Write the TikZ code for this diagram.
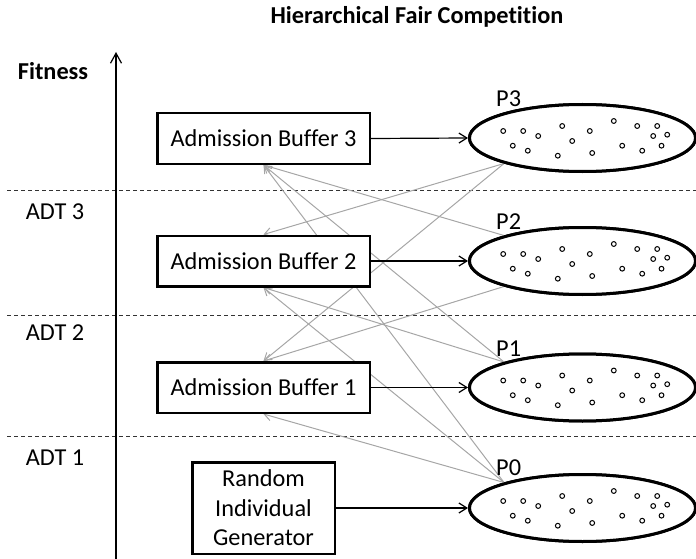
\documentclass[tikz,border=0pt]{standalone}
\usepackage{fontspec}
\setmainfont{Carlito}[Ligatures=NoCommon]
\usetikzlibrary{arrows.meta,shapes.geometric}
\begin{document}
\begin{tikzpicture}[x=1pt,y=-1pt,
  every node/.style={font=\fontsize{24.3}{29.5}\selectfont},
  boldtxt/.style={font=\fontsize{24.3}{29.5}\selectfont\bfseries},
  buf/.style={draw,line width=2.5pt,fill=white,minimum width=212.5pt,minimum height=50.5pt,inner sep=0pt},
  gen/.style={draw,line width=2.5pt,fill=white,minimum width=142.5pt,minimum height=91.5pt,inner sep=0pt,align=center},
  pop/.style={draw,ellipse,line width=3pt,fill=white,minimum width=226pt,minimum height=67pt,inner sep=0pt},
  blk/.style={-{Straight Barb[length=8pt,width=10pt]},line width=1.2pt},
  gry/.style={-{Straight Barb[length=7pt,width=9pt]},line width=1pt,draw=black!35},
  sep/.style={dash pattern=on 4pt off 3pt,line width=0.9pt,draw=black!80},
  axisline/.style={-{Straight Barb[length=10pt,width=11pt]},line width=1.2pt},
  dot/.style={draw,line width=1pt,fill=white}
]
\useasboundingbox (0,0) rectangle (696,559);
\def\dotlist{-79.3/-7,-59.3/-7,-44.3/-2,-69.7/7.7,-54.7/12.7,-20.3/-12,-10.3/3,7.3/-7,-24.7/17.7,9.7/15,31.3/-17,54.7/-12,74.7/-12,70.7/-2,84.7/-3.3,39.7/7.7,59.7/12.7,79/7.7}

% separators
\foreach \yy/\nm in {190/a,315/b,436/c}{
  \coordinate (s\nm0) at (7,\yy);
  \coordinate (s\nm1) at (696,\yy);
  \draw[sep] (s\nm0) -- (s\nm1);
}

% axis
\coordinate (ax0) at (116,559);
\coordinate (ax1) at (116,52);
\draw[axisline] (ax0) -- (ax1);

% nodes
\path
  (263.5,138.5) node[buf] (AB3) {Admission Buffer 3}
  (263.5,261)   node[buf] (AB2) {Admission Buffer 2}
  (263.5,387.5) node[buf] (AB1) {Admission Buffer 1}
  (263.5,508)   node[gen] (RIG) {Random\\Individual\\Generator}
  (582.5,138)   node[pop] (P3) {}
  (582.5,261)   node[pop] (P2) {}
  (582.5,387.5) node[pop] (P1) {}
  (582.5,508)   node[pop] (P0) {};

% gray migration arrows
\draw[gry] (P3.198) -- (AB2.north);
\draw[gry] (P3.198) -- (AB1.north);
\draw[gry] (P2.162) -- (AB3.south);
\draw[gry] (P2.198) -- (AB1.north);
\draw[gry] (P1.162) -- (AB3.south);
\draw[gry] (P1.162) -- (AB2.south);
\draw[gry] (P0.162) -- (AB3.south);
\draw[gry] (P0.162) -- (AB2.south);
\draw[gry] (P0.162) -- (AB1.south);

% redraw boxes and ellipses on top of gray lines
\path
  (AB3.center) node[buf] {Admission Buffer 3}
  (AB2.center) node[buf] {Admission Buffer 2}
  (AB1.center) node[buf] {Admission Buffer 1}
  (RIG.center) node[gen] {Random\\Individual\\Generator}
  (P3.center) node[pop] {}
  (P2.center) node[pop] {}
  (P1.center) node[pop] {}
  (P0.center) node[pop] {};

% dots
\foreach \p in {P3,P2,P1,P0}{
  \foreach \dx/\dy in \dotlist{
    \draw[dot] (\p.center) ++(\dx,\dy) circle[radius=2.4pt];
  }
}

% black arrows
\draw[blk] (AB3.east) -- (P3.west);
\draw[blk] (AB2.east) -- (P2.west);
\draw[blk] (AB1.east) -- (P1.west);
\draw[blk] (RIG.east) -- (P0.west);

% labels
\node[boldtxt] (title) at (417,17) {Hierarchical Fair Competition};
\node[boldtxt] (fit) at (53,71) {Fitness};
\node (adt3) at (55,212) {ADT 3};
\node (adt2) at (55,333) {ADT 2};
\node (adt1) at (55,458) {ADT 1};
\node[anchor=base west,inner sep=0pt] (l3) at (496,107) {P3};
\node[anchor=base west,inner sep=0pt] (l2) at (496,229) {P2};
\node[anchor=base west,inner sep=0pt] (l1) at (496,356) {P1};
\node[anchor=base west,inner sep=0pt] (l0) at (496,475) {P0};
\end{tikzpicture}
\end{document}
